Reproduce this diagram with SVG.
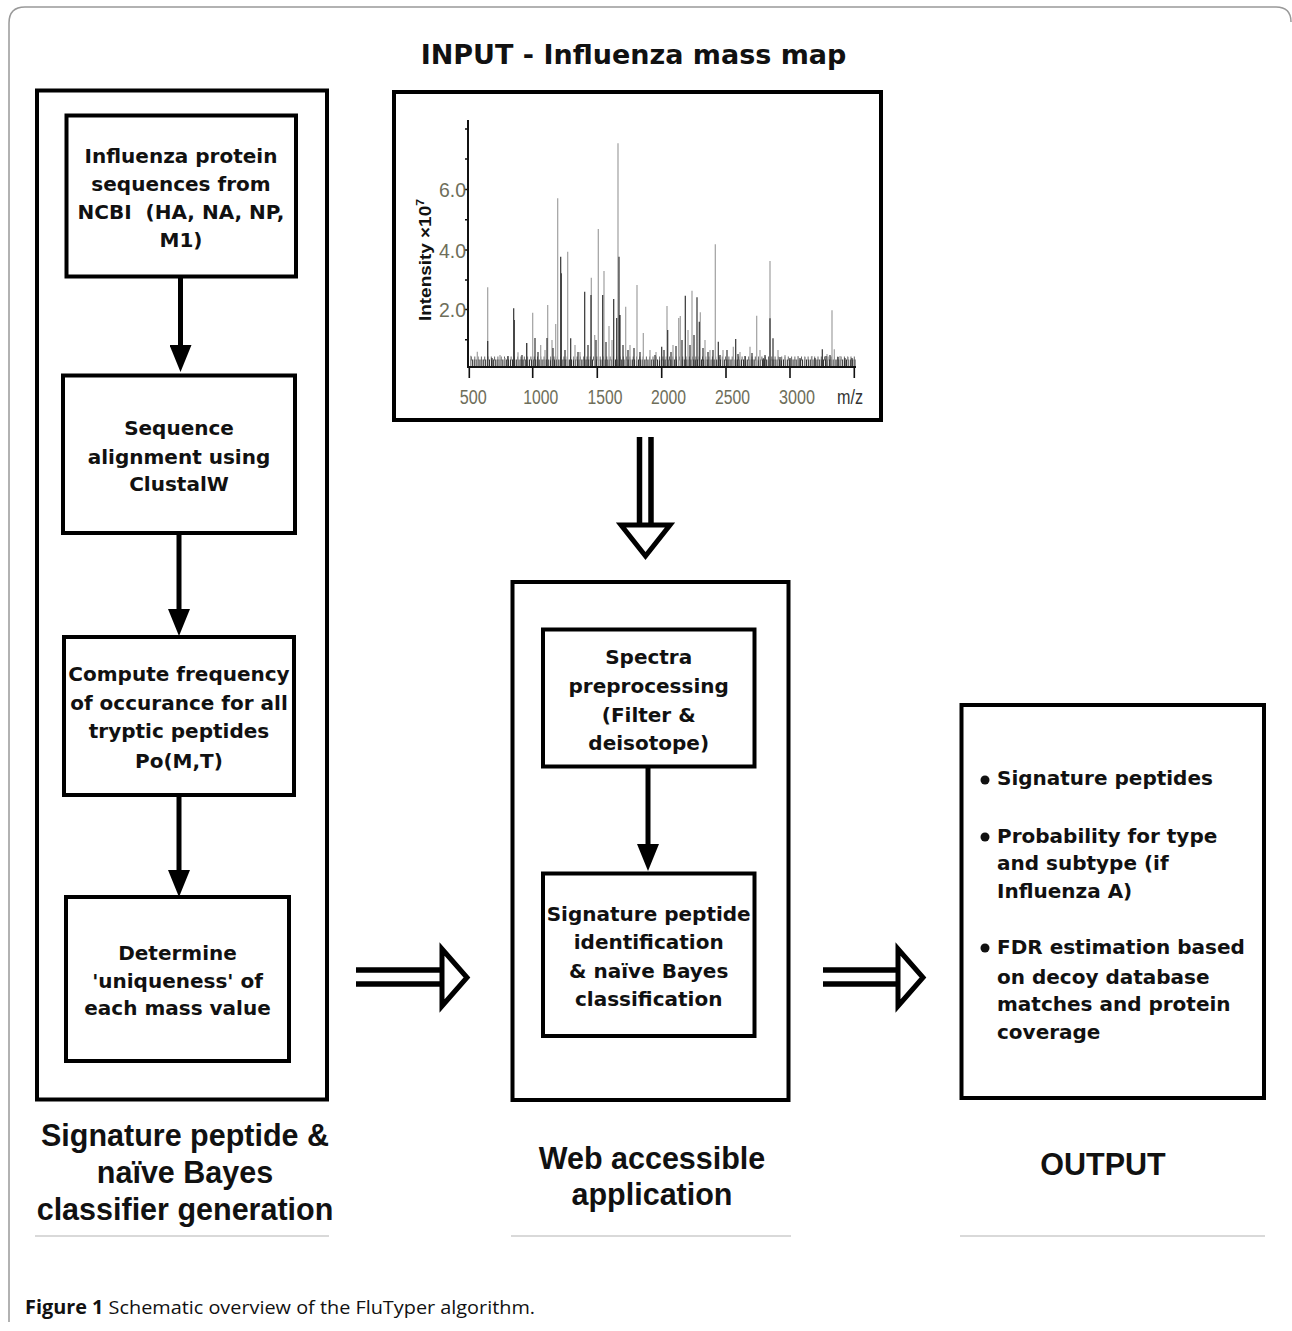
<svg xmlns="http://www.w3.org/2000/svg" width="1292" height="1331" viewBox="0 0 1292 1331">
<style>
.bx{fill:none;stroke:#000;stroke-width:4}
.t{font-family:"DejaVu Sans","Verdana",sans-serif;font-weight:bold;font-size:20px;fill:#111;text-anchor:middle}
.tl{font-family:"DejaVu Sans","Verdana",sans-serif;font-weight:bold;font-size:20px;fill:#111}
.lab{font-family:"Liberation Sans",Arial,sans-serif;font-weight:bold;font-size:30.5px;fill:#111;text-anchor:middle}
.ax{font-family:"Liberation Sans",Arial,sans-serif;font-size:20px;fill:#6e6e5a;text-anchor:middle}
.conn{stroke:#000;stroke-width:5;fill:none}
.dbl{stroke:#000;stroke-width:5.5;fill:none}
.head{fill:#fff;stroke:#000;stroke-width:5;stroke-linejoin:miter}
</style>
<defs>
<marker id="ah" markerUnits="userSpaceOnUse" markerWidth="27" markerHeight="22" viewBox="0 0 27 22" refX="0" refY="11" orient="auto">
<path d="M0,0 L27,11 L0,22 Z" fill="#000"/>
</marker>
</defs>
<rect width="1292" height="1331" fill="#fff"/>
<path d="M9 1322 V23 Q9 7 25 7 H1276 Q1291 7 1291 22" fill="none" stroke="#999" stroke-width="1.5"/>
<g stroke="#ccc" stroke-width="1.5">
<line x1="35" y1="1236" x2="329" y2="1236"/>
<line x1="511" y1="1236" x2="791" y2="1236"/>
<line x1="960" y1="1236" x2="1265" y2="1236"/>
</g>

<text x="633.5" y="64" font-family="DejaVu Sans, Verdana, sans-serif" font-weight="bold" font-size="27" fill="#111" text-anchor="middle">INPUT - Influenza mass map</text>

<g id="generator-container">
<rect class="bx" x="37" y="90.5" width="290" height="1009"/>
</g>
<g id="node-ncbi">
<rect class="bx" x="66.5" y="115.5" width="229.5" height="161"/>
<text class="t" x="181" y="163">Influenza protein</text>
<text class="t" x="181" y="191">sequences from</text>
<text class="t" x="181" y="219" xml:space="preserve">NCBI  (HA, NA, NP,</text>
<text class="t" x="181" y="247">M1)</text>
</g>
<g id="node-align">
<rect class="bx" x="63" y="375.5" width="232" height="157.5"/>
<text class="t" x="179" y="435">Sequence</text>
<text class="t" x="179" y="464">alignment using</text>
<text class="t" x="179" y="491">ClustalW</text>
</g>
<g id="node-frequency">
<rect class="bx" x="64" y="637" width="230" height="158"/>
<text class="t" x="179" y="681">Compute frequency</text>
<text class="t" x="179" y="710">of occurance for all</text>
<text class="t" x="179" y="738">tryptic peptides</text>
<text class="t" x="179" y="768">Po(M,T)</text>
</g>
<g id="node-uniqueness">
<rect class="bx" x="66" y="897" width="223" height="164"/>
<text class="t" x="177.5" y="960">Determine</text>
<text class="t" x="177.5" y="988">'uniqueness' of</text>
<text class="t" x="177.5" y="1015">each mass value</text>
</g>
<g id="label-generator">
<text class="lab" x="185" y="1146">Signature peptide &amp;</text>
<text class="lab" x="185" y="1183">naïve Bayes</text>
<text class="lab" x="185" y="1220">classifier generation</text>
</g>

<g id="node-massmap">
<rect class="bx" x="394" y="92" width="487" height="328"/>
<path d="M470 363 H856" stroke="#333" stroke-width="7" stroke-dasharray="1.2 0.9"/>
<path d="M471 358.5 H855" stroke="#666" stroke-width="4" stroke-dasharray="1 2.3"/>
<path stroke="#a0a0a0" stroke-width="1.2" fill="none" d="M470.7 367V355.7 M477.3 367V351.7 M487.7 367V287.3 M500 367V355 M518 367V352.3 M526.7 367V343.3 M532.7 367V312.7 M540.7 367V345 M547.7 367V305 M555.7 367V324 M557.7 367V198.3 M567.7 367V251.7 M591.3 367V277.7 M594.7 367V335 M598.3 367V229 M604 367V271 M609 367V326 M618 367V143.3 M625.7 367V306.7 M637 367V285 M643.3 367V333 M667 367V306 M678.7 367V318 M680.3 367V316 M692 367V290.7 M700.3 367V312.3 M715.3 367V244.3 M733.3 367V346.7 M750 367V346.7 M756.7 367V315.7 M770 367V261 M832 367V310.3 M834.3 367V349.3 M505 367V358 M545 367V350 M552 367V340 M575 367V345 M580 367V352 M612 367V340 M630 367V345 M650 367V350 M656 367V352 M673 367V345 M688 367V330 M705 367V340 M710 367V350 M723 367V350 M740 367V352 M760 367V350 M778 367V350 M785 367V355 M798 367V356 M805 367V357 M812 367V356 M827 367V354 M840 367V356 M848 367V357"/>
<path stroke="#333" stroke-width="1.2" fill="none" d="M487.7 367V341 M513.7 367V308.3 M514.3 367V320 M526.7 367V343 M535 367V338 M547 367V338 M560.7 367V256.7 M561.3 367V273.3 M570.7 367V338.3 M584.7 367V291.7 M591 367V295 M602.7 367V295 M613.7 367V299 M616.7 367V318 M619 367V256.7 M620 367V315 M661.7 367V346.7 M667.7 367V330 M685.3 367V295.7 M697 367V297.3 M699.3 367V321.7 M718.3 367V341.7 M735.7 367V339 M763.3 367V358.3 M770 367V318.3 M773 367V338.3 M822.3 367V349.3 M492 367V358 M508 367V356 M522 367V355 M538 367V352 M553 367V348 M565 367V350 M578 367V352 M588 367V345 M596 367V340 M606 367V342 M623 367V345 M628 367V350 M634 367V348 M640 367V352 M655 367V355 M664 367V350 M671 367V352 M676 367V346 M682 367V340 M690 367V345 M694 367V335 M703 367V348 M708 367V352 M713 367V350 M720 367V355 M727 367V350 M738 367V354 M745 367V356 M752 367V353 M765 367V355 M780 367V357 M790 367V358 M800 367V358 M815 367V358 M826 367V356 M830 367V355 M838 367V357 M845 367V358 M852 367V358"/>
<path d="M468 120 V367 H856" fill="none" stroke="#111" stroke-width="2"/>
<path d="M469.3 367V378 M532.7 367V378 M597.3 367V378 M661.7 367V378 M726 367V378 M790 367V378 M854.3 367V378 M468 129h-3 M468 159h-3 M468 189.5h-4 M468 219.7h-3 M468 250h-4 M468 280h-3 M468 309.5h-4 M468 339.7h-3" stroke="#111" stroke-width="1.6" fill="none"/>
<text class="ax" x="473.3" y="404" textLength="27" lengthAdjust="spacingAndGlyphs">500</text>
<text class="ax" x="540.8" y="404" textLength="35" lengthAdjust="spacingAndGlyphs">1000</text>
<text class="ax" x="605" y="404" textLength="35" lengthAdjust="spacingAndGlyphs">1500</text>
<text class="ax" x="668.5" y="404" textLength="35" lengthAdjust="spacingAndGlyphs">2000</text>
<text class="ax" x="732.5" y="404" textLength="35" lengthAdjust="spacingAndGlyphs">2500</text>
<text class="ax" x="797" y="404" textLength="36" lengthAdjust="spacingAndGlyphs">3000</text>
<text class="ax" x="850" y="404" style="fill:#333" textLength="26" lengthAdjust="spacingAndGlyphs">m/z</text>
<text class="ax" x="452.5" y="197" textLength="27" lengthAdjust="spacingAndGlyphs">6.0</text>
<text class="ax" x="452.5" y="257.5" textLength="27" lengthAdjust="spacingAndGlyphs">4.0</text>
<text class="ax" x="452.5" y="317" textLength="27" lengthAdjust="spacingAndGlyphs">2.0</text>
<text transform="translate(431 260) rotate(-90)" font-family="Liberation Sans, Arial, sans-serif" font-weight="bold" font-size="17" fill="#111" text-anchor="middle" textLength="122" lengthAdjust="spacingAndGlyphs">Intensity ×10<tspan dy="-7" font-size="11">7</tspan></text>
</g>

<g id="webapp-container">
<rect class="bx" x="512.5" y="582" width="276" height="518"/>
</g>
<g id="node-preprocessing">
<rect class="bx" x="543" y="629.5" width="211.5" height="137"/>
<text class="t" x="648.7" y="664">Spectra</text>
<text class="t" x="648.7" y="693">preprocessing</text>
<text class="t" x="648.7" y="722">(Filter &amp;</text>
<text class="t" x="648.7" y="750">deisotope)</text>
</g>
<g id="node-classification">
<rect class="bx" x="543" y="873.5" width="211.5" height="162.5"/>
<text class="t" x="648.7" y="921">Signature peptide</text>
<text class="t" x="648.7" y="949">identification</text>
<text class="t" x="648.7" y="978">&amp; naïve Bayes</text>
<text class="t" x="648.7" y="1006">classification</text>
</g>
<g id="label-webapp">
<text class="lab" x="652" y="1169">Web accessible</text>
<text class="lab" x="652" y="1205">application</text>
</g>

<g id="node-output">
<rect class="bx" x="961.5" y="705" width="302.5" height="393"/>
<g fill="#111">
<circle cx="985" cy="780" r="4.5"/>
<circle cx="985" cy="837" r="4.5"/>
<circle cx="985" cy="948" r="4.5"/>
</g>
<text class="tl" x="997" y="785">Signature peptides</text>
<text class="tl" x="997" y="843">Probability for type</text>
<text class="tl" x="997" y="870">and subtype (if</text>
<text class="tl" x="997" y="898">Influenza A)</text>
<text class="tl" x="997" y="954">FDR estimation based</text>
<text class="tl" x="997" y="984">on decoy database</text>
<text class="tl" x="997" y="1011">matches and protein</text>
<text class="tl" x="997" y="1039">coverage</text>
</g>
<g id="label-output">
<text class="lab" x="1103" y="1175">OUTPUT</text>
</g>

<g id="connectors">
<line class="conn" x1="180.5" y1="278" x2="180.5" y2="345" marker-end="url(#ah)"/>
<line class="conn" x1="179" y1="535" x2="179" y2="609" marker-end="url(#ah)"/>
<line class="conn" x1="179" y1="797" x2="179" y2="870" marker-end="url(#ah)"/>
<line class="conn" x1="648" y1="768" x2="648" y2="844" marker-end="url(#ah)"/>
<g id="arrow-input">
<line class="dbl" x1="639.5" y1="437" x2="639.5" y2="525"/>
<line class="dbl" x1="651" y1="437" x2="651" y2="525"/>
<polygon class="head" points="621,525 670,525 645.5,556"/>
</g>
<g id="arrow-to-webapp">
<line class="dbl" x1="356" y1="970" x2="442" y2="970"/>
<line class="dbl" x1="356" y1="984" x2="442" y2="984"/>
<polygon class="head" points="442,949 442,1006 467,977.5"/>
</g>
<g id="arrow-to-output">
<line class="dbl" x1="823" y1="970" x2="898" y2="970"/>
<line class="dbl" x1="823" y1="984" x2="898" y2="984"/>
<polygon class="head" points="898,949 898,1006 923,977.5"/>
</g>
</g>

<text x="25" y="1314" font-family="Open Sans, Noto Sans, sans-serif" font-size="19" fill="#111" textLength="510" lengthAdjust="spacingAndGlyphs"><tspan font-weight="bold">Figure 1</tspan> Schematic overview of the FluTyper algorithm.</text>
</svg>
